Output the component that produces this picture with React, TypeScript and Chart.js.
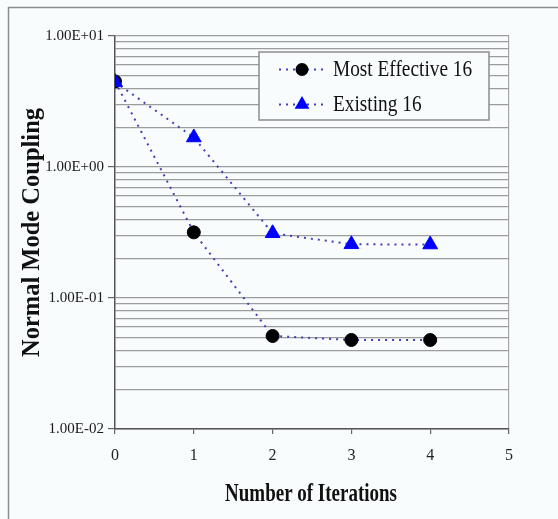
import React, { useEffect, useRef } from "react";
import { Chart, registerables } from "chart.js";

Chart.register(...registerables);

// ---- data ----
const iterations = [0, 1, 2, 3, 4];
const mostEffective16 = [4.5, 0.317, 0.0513, 0.0478, 0.0478];
const existing16 = [4.45, 1.68, 0.312, 0.257, 0.256];
const seriesNames = ["Most Effective 16", "Existing 16"];
const xTickValues = [0, 1, 2, 3, 4, 5];
const yDecades = [0.01, 0.1, 1, 10];
const yTickLabels = ["1.00E-02", "1.00E-01", "1.00E+00", "1.00E+01"];
const yTitle = "Normal Mode Coupling";
const xTitle = "Number of Iterations";

const BG = "#f8fcfc";
const LINE_COLOR = "#4040b0";
const SERIF = "'Liberation Serif', 'Times New Roman', serif";

// full log grid: 1..9 x each decade, plus the top decade
const yGridValues: number[] = [];
for (let d = 0; d < yDecades.length - 1; d++) {
  for (let m = 1; m <= 9; m++) yGridValues.push(+(yDecades[d] * m).toPrecision(6));
}
yGridValues.push(yDecades[yDecades.length - 1]);

const decadeIndex = (v: number) =>
  yDecades.findIndex((d) => Math.abs(v - d) / d < 1e-6);

const framePlugin = {
  id: "frameBg",
  beforeDraw(chart: any) {
    const { ctx, width, height } = chart;
    ctx.save();
    ctx.fillStyle = BG;
    ctx.fillRect(0, 0, width, height);
    ctx.strokeStyle = "#8c8c8c";
    ctx.lineWidth = 1.5;
    ctx.beginPath();
    ctx.moveTo(8.5, height);
    ctx.lineTo(8.5, 7.5);
    ctx.lineTo(width, 7.5);
    ctx.stroke();
    ctx.restore();
  },
};

const textPlugin = {
  id: "condensedText",
  afterDraw(chart: any) {
    const { ctx, chartArea } = chart;
    ctx.save();
    // x axis title (condensed)
    ctx.fillStyle = "#111";
    ctx.font = `bold 26px ${SERIF}`;
    ctx.textAlign = "center";
    ctx.textBaseline = "alphabetic";
    ctx.save();
    ctx.translate((chartArea.left + chartArea.right) / 2 - 1, 501);
    ctx.scale(0.73, 1);
    ctx.fillText(xTitle, 0, 0);
    ctx.restore();

    // legend box
    const bx = 259, by = 52, bw = 230, bh = 68;
    ctx.fillStyle = BG;
    ctx.fillRect(bx, by, bw, bh);
    ctx.strokeStyle = "#8c8c8c";
    ctx.lineWidth = 1.5;
    ctx.strokeRect(bx, by, bw, bh);

    const rows = [69.5, 104.5];
    const datasets = chart.data.datasets;
    datasets.forEach((ds: any, i: number) => {
      const y = rows[i];
      ctx.save();
      ctx.strokeStyle = ds.borderColor;
      ctx.lineWidth = ds.borderWidth;
      ctx.setLineDash(ds.borderDash);
      ctx.beginPath();
      ctx.moveTo(279, y);
      ctx.lineTo(326, y);
      ctx.stroke();
      ctx.restore();
      ctx.fillStyle = ds.pointBackgroundColor;
      const mx = 302;
      const r = ds.pointRadius;
      ctx.beginPath();
      if (ds.pointStyle === "triangle") {
        for (let k = 0; k < 3; k++) {
          const a = (k * 2 * Math.PI) / 3;
          const px = mx + Math.sin(a) * r;
          const py = y - Math.cos(a) * r;
          if (k === 0) ctx.moveTo(px, py);
          else ctx.lineTo(px, py);
        }
        ctx.closePath();
      } else {
        ctx.arc(mx, y, r, 0, Math.PI * 2);
      }
      ctx.fill();

      ctx.save();
      ctx.fillStyle = "#111";
      ctx.font = `23px ${SERIF}`;
      ctx.textAlign = "left";
      ctx.textBaseline = "alphabetic";
      ctx.translate(333, y + 6.5);
      ctx.scale(0.84, 1);
      ctx.fillText(ds.label, 0, 0);
      ctx.restore();
    });
    ctx.restore();
  },
};

export default function App() {
  const ref = useRef<HTMLCanvasElement | null>(null);

  useEffect(() => {
    if (!ref.current) return;
    const chart = new Chart(ref.current, {
      type: "line",
      data: {
        datasets: [
          {
            label: seriesNames[0],
            data: iterations.map((x, i) => ({ x, y: mostEffective16[i] })),
            borderColor: LINE_COLOR,
            borderWidth: 2,
            borderDash: [2, 5],
            pointStyle: "circle",
            pointRadius: 6.5,
            pointBackgroundColor: "#000000",
            pointBorderColor: "#000000",
            pointBorderWidth: 1,
            fill: false,
            tension: 0,
            order: 2,
          },
          {
            label: seriesNames[1],
            data: iterations.map((x, i) => ({ x, y: existing16[i] })),
            borderColor: LINE_COLOR,
            borderWidth: 2,
            borderDash: [2, 5],
            pointStyle: "triangle",
            pointRadius: 8.5,
            pointBackgroundColor: "#0000ff",
            pointBorderColor: "#0000ff",
            pointBorderWidth: 1,
            fill: false,
            tension: 0,
            order: 1,
          },
        ] as any,
      },
      options: {
        animation: false,
        responsive: false,
        events: [],
        layout: { padding: { left: 0, top: 36, right: 49, bottom: 0 } },
        plugins: {
          legend: { display: false },
          tooltip: { enabled: false },
          title: { display: false },
        },
        scales: {
          x: {
            type: "linear",
            min: 0,
            max: 5,
            afterBuildTicks: (s: any) => {
              s.ticks = xTickValues.map((v) => ({ value: v }));
            },
            afterFit: (s: any) => {
              s.height = 90;
            },
            ticks: {
              autoSkip: false,
              padding: 12,
              color: "#222",
              font: { family: SERIF, size: 16 },
              callback: (v: any) => String(v),
            },
            grid: {
              drawOnChartArea: true,
              color: (c: any) =>
                c.tick && c.tick.value === 5 ? "#a8a8a8" : "rgba(0,0,0,0)",
              tickColor: "#666",
              tickLength: 5,
              lineWidth: 1.2,
            },
            border: { color: "#555", width: 1.5 },
          },
          y: {
            type: "logarithmic",
            min: 0.01,
            max: 10,
            afterBuildTicks: (s: any) => {
              s.ticks = yGridValues.map((v) => ({
                value: v,
                major: decadeIndex(v) >= 0,
              }));
            },
            afterFit: (s: any) => {
              s.width = 115;
            },
            ticks: {
              autoSkip: false,
              padding: 4,
              color: "#1a1a1a",
              font: { family: SERIF, size: 15 },
              callback: (v: any) => {
                const i = decadeIndex(Number(v));
                return i >= 0 ? yTickLabels[i] : "";
              },
            },
            grid: {
              color: "#9c9c9c",
              lineWidth: 1.2,
              tickLength: 7,
              tickColor: (c: any) =>
                c.tick && decadeIndex(c.tick.value) >= 0 ? "#666" : "rgba(0,0,0,0)",
            },
            border: { color: "#555", width: 1.5 },
            title: {
              display: true,
              text: yTitle,
              color: "#111",
              font: { family: SERIF, size: 24.5, weight: "bold" },
              padding: { top: 18, bottom: 0 },
            },
          },
        },
      } as any,
      plugins: [framePlugin, textPlugin],
    });
    return () => chart.destroy();
  }, []);

  return (
    <div style={{ position: "fixed", left: 0, top: 0, width: 558, height: 519, background: BG }}>
      <canvas ref={ref} width={558} height={519} style={{ width: 558, height: 519, display: "block" }} />
    </div>
  );
}
